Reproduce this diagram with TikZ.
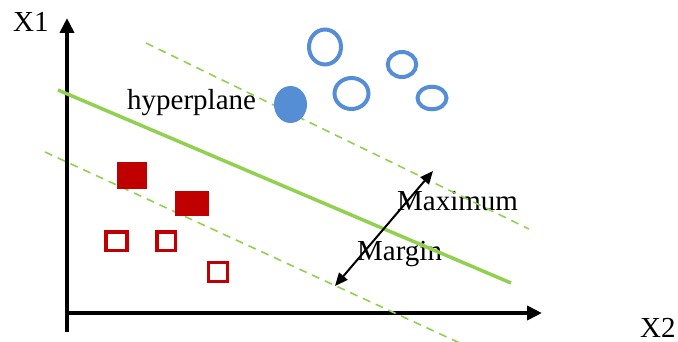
\documentclass[tikz,border=0pt]{standalone}
\usepackage{fontspec}
\setmainfont{Liberation Serif}
\usetikzlibrary{arrows.meta,shapes.geometric}
\definecolor{svmgreen}{HTML}{92D050}
\definecolor{svmblue}{HTML}{558ED5}
\definecolor{svmred}{HTML}{C00000}
\tikzset{
  lbl/.style={inner sep=0pt,font=\fontsize{29}{30}\selectfont},
  axis/.style={line width=4pt,-{Triangle[length=15pt,width=14pt]}},
  sepline/.style={svmgreen,line width=3.5pt},
  marginline/.style={svmgreen,line width=1.6pt,dash pattern=on 8pt off 6pt},
  ring/.style={ellipse,draw=svmblue,line width=4pt,inner sep=0pt},
  dot/.style={ellipse,fill=svmblue,inner sep=0pt},
  redfull/.style={fill=svmred},
  redhollow/.style={draw=svmred,line width=3.5pt},
  span/.style={line width=2pt,{Triangle[length=13pt,width=11pt]}-{Triangle[length=13pt,width=11pt]}}
}
\begin{document}
\begin{tikzpicture}[x=1pt,y=-1pt]
\useasboundingbox (0,0) rectangle (678,342);
% labels
\node[lbl,anchor=base west] (x1) at (13,32) {X1};
\node[lbl,anchor=base west] (x2) at (640,337) {X2};
\node[lbl,anchor=base west] (hyp) at (127,110) {hyperplane};
\node[lbl,anchor=base west] (max) at (397,211) {Maximum};
\node[lbl,anchor=base west] (mar) at (357,261) {Margin};
% axes
\coordinate (yb) at (67,332);
\coordinate (yt) at (67,18);
\coordinate (xl) at (65,313);
\coordinate (xr) at (542,313);
\draw[axis] (yb) -- (yt);
\draw[axis] (xl) -- (xr);
% separating hyperplane and margin boundaries
\coordinate (h1) at (58,90);
\coordinate (h2) at (511,283);
\coordinate (u1) at (146,43);
\coordinate (u2) at (529,229);
\coordinate (l1) at (45,152);
\coordinate (l2) at (462,344);
\draw[sepline] (h1) -- (h2);
\draw[marginline] (u1) -- (u2);
\draw[marginline] (l1) -- (l2);
% blue class
\node[dot,minimum width=33pt,minimum height=37pt] (b0) at (290.5,104.5) {};
\node[ring,minimum width=32pt,minimum height=35pt] (b1) at (325,47) {};
\node[ring,minimum width=34pt,minimum height=31pt] (b2) at (351.5,93.5) {};
\node[ring,minimum width=28.5pt,minimum height=25pt] (b3) at (402,64.5) {};
\node[ring,minimum width=29pt,minimum height=22.5pt] (b4) at (432,98) {};
% red class
\fill[redfull] (117,162) rectangle (147,189);
\fill[redfull] (175,191) rectangle (209,216);
\draw[redhollow] (105.8,231.8) rectangle (127.2,250.5);
\draw[redhollow] (157.1,231.8) rectangle (175.5,250.5);
\draw[redhollow] (208.5,262.5) rectangle (227.5,281.5);
% margin width
\coordinate (m1) at (335,286);
\coordinate (m2) at (433,171);
\draw[span] (m1) -- (m2);
\end{tikzpicture}
\end{document}
